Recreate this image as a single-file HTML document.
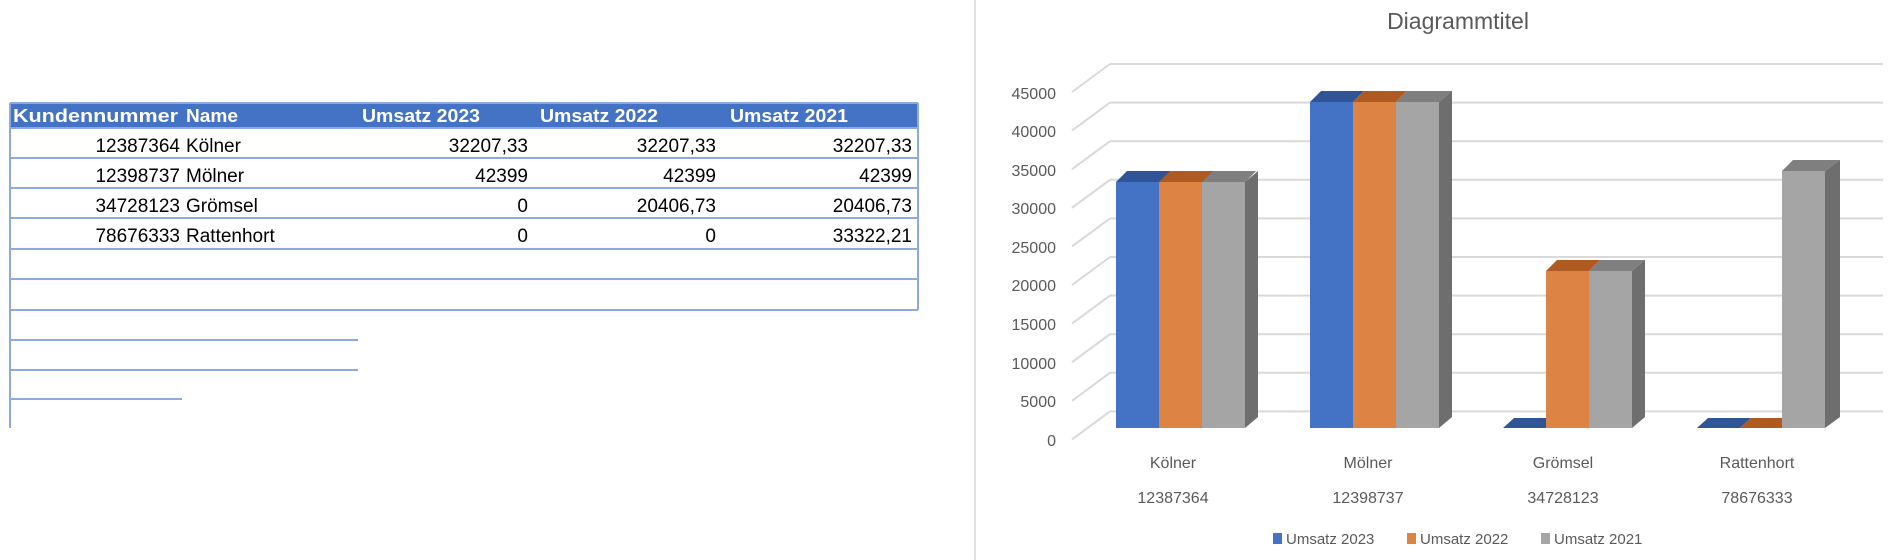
<!DOCTYPE html>
<html><head><meta charset="utf-8"><style>
html,body{margin:0;padding:0;background:#fff;width:1904px;height:560px;overflow:hidden}
svg{display:block}
text{font-family:"Liberation Sans",sans-serif}
</style></head><body>
<svg width="1904" height="560" viewBox="0 0 1904 560" xmlns="http://www.w3.org/2000/svg">
<rect x="10" y="103" width="908" height="25" fill="#4472C4"/>
<g stroke="#8EA9DB" stroke-width="2" fill="none">
<line x1="10" y1="103" x2="918" y2="103"/>
<line x1="10" y1="103" x2="10" y2="428"/>
<line x1="918" y1="103" x2="918" y2="310"/>
<line x1="10" y1="128" x2="918" y2="128"/>
<line x1="10" y1="158" x2="918" y2="158"/>
<line x1="10" y1="188" x2="918" y2="188"/>
<line x1="10" y1="218" x2="918" y2="218"/>
<line x1="10" y1="249" x2="918" y2="249"/>
<line x1="10" y1="279" x2="918" y2="279"/>
<line x1="10" y1="310" x2="918" y2="310"/>
<line x1="10" y1="340" x2="358" y2="340"/>
<line x1="10" y1="370" x2="358" y2="370"/>
<line x1="10" y1="399" x2="182" y2="399"/>
</g>
<g font-size="18" font-weight="bold" fill="#fff">
<text x="13" y="122" textLength="165" lengthAdjust="spacingAndGlyphs">Kundennummer</text>
<text x="186" y="122" textLength="52" lengthAdjust="spacingAndGlyphs">Name</text>
<text x="362" y="122" textLength="118" lengthAdjust="spacingAndGlyphs">Umsatz 2023</text>
<text x="540" y="122" textLength="118" lengthAdjust="spacingAndGlyphs">Umsatz 2022</text>
<text x="730" y="122" textLength="118" lengthAdjust="spacingAndGlyphs">Umsatz 2021</text>
</g>
<g font-size="19" fill="#000">
<g text-anchor="end">
<text x="180" y="152">12387364</text><text x="180" y="182">12398737</text><text x="180" y="212">34728123</text><text x="180" y="242">78676333</text>
<text x="528" y="152">32207,33</text><text x="528" y="182">42399</text><text x="528" y="212">0</text><text x="528" y="242">0</text>
<text x="716" y="152">32207,33</text><text x="716" y="182">42399</text><text x="716" y="212">20406,73</text><text x="716" y="242">0</text>
<text x="912" y="152">32207,33</text><text x="912" y="182">42399</text><text x="912" y="212">20406,73</text><text x="912" y="242">33322,21</text>
</g>
<text x="186" y="152">Kölner</text><text x="186" y="182">Mölner</text><text x="186" y="212">Grömsel</text><text x="186" y="242">Rattenhort</text>
</g>
<line x1="975" y1="0" x2="975" y2="560" stroke="#d9d9d9" stroke-width="1.5"/>
<text x="1458" y="29" font-size="23" fill="#595959" text-anchor="middle">Diagrammtitel</text>
<g stroke="#d9d9d9" stroke-width="2" fill="none">
<path d="M1110 64H1883M1110 64L1072 92"/>
<path d="M1110 102.6H1883M1110 102.6L1072 130.6"/>
<path d="M1110 141.2H1883M1110 141.2L1072 169.2"/>
<path d="M1110 179.8H1883M1110 179.8L1072 207.8"/>
<path d="M1110 218.4H1883M1110 218.4L1072 246.4"/>
<path d="M1110 257H1883M1110 257L1072 285"/>
<path d="M1110 295.6H1883M1110 295.6L1072 323.6"/>
<path d="M1110 334.2H1883M1110 334.2L1072 362.2"/>
<path d="M1110 372.8H1883M1110 372.8L1072 400.8"/>
<path d="M1110 411.4H1883M1110 411.4L1072 439.4"/>
</g>
<g font-size="16" fill="#595959" text-anchor="end">
<text x="1056" y="99">45000</text><text x="1056" y="137">40000</text><text x="1056" y="176">35000</text><text x="1056" y="214">30000</text><text x="1056" y="253">25000</text><text x="1056" y="291">20000</text><text x="1056" y="330">15000</text><text x="1056" y="369">10000</text><text x="1056" y="407">5000</text><text x="1056" y="446">0</text>
</g>
<g>
<polygon points="1116,182 1127,171 1256,171 1245,182" fill="#2F5597"/>
<polygon points="1159,182 1170,171 1213,171 1202,182" fill="#AE5A21"/>
<polygon points="1202,182 1213,171 1256,171 1245,182" fill="#7F7F7F"/>
<rect x="1116" y="182" width="43" height="246" fill="#4472C4"/>
<rect x="1159" y="182" width="43" height="246" fill="#DD8444"/>
<rect x="1202" y="182" width="43" height="246" fill="#A5A5A5"/>
<polygon points="1245,182 1258,171 1258,417 1245,428" fill="#6E6E6E"/>
<polygon points="1310,102 1321,91 1364,91 1353,102" fill="#2F5597"/>
<polygon points="1353,102 1364,91 1407,91 1396,102" fill="#AE5A21"/>
<polygon points="1396,102 1407,91 1452,91 1439,102" fill="#7F7F7F"/>
<rect x="1310" y="102" width="43" height="326" fill="#4472C4"/>
<rect x="1353" y="102" width="43" height="326" fill="#DD8444"/>
<rect x="1396" y="102" width="43" height="326" fill="#A5A5A5"/>
<polygon points="1439,102 1452,91 1452,417 1439,428" fill="#6E6E6E"/>
<polygon points="1503,428 1514,418 1557,418 1546,428" fill="#2F5597"/>
<polygon points="1546,271 1557,260 1600,260 1589,271" fill="#AE5A21"/>
<polygon points="1589,271 1600,260 1645,260 1632,271" fill="#7F7F7F"/>
<rect x="1546" y="271" width="43" height="157" fill="#DD8444"/>
<rect x="1589" y="271" width="43" height="157" fill="#A5A5A5"/>
<polygon points="1632,271 1645,260 1645,417 1632,428" fill="#6E6E6E"/>
<polygon points="1697,428 1708,418 1751,418 1740,428" fill="#2F5597"/>
<polygon points="1740,428 1751,418 1794,418 1783,428" fill="#AE5A21"/>
<polygon points="1782,171 1793,160 1840,160 1825,171" fill="#7F7F7F"/>
<rect x="1782" y="171" width="43" height="257" fill="#A5A5A5"/>
<polygon points="1825,171 1840,160 1840,417 1825,428" fill="#6E6E6E"/>
</g>
<g font-size="16" fill="#595959" text-anchor="middle">
<text x="1173" y="468">Kölner</text><text x="1368" y="468">Mölner</text><text x="1563" y="468">Grömsel</text><text x="1757" y="468">Rattenhort</text>
<text x="1173" y="503">12387364</text><text x="1368" y="503">12398737</text><text x="1563" y="503">34728123</text><text x="1757" y="503">78676333</text>
</g>
<rect x="1273" y="533" width="9" height="11" fill="#4472C4"/>
<rect x="1407" y="533" width="9" height="11" fill="#DD8444"/>
<rect x="1541" y="533" width="9" height="11" fill="#A5A5A5"/>
<g font-size="15" fill="#595959">
<text x="1286" y="544">Umsatz 2023</text><text x="1420" y="544">Umsatz 2022</text><text x="1554" y="544">Umsatz 2021</text>
</g>
</svg>
</body></html>
